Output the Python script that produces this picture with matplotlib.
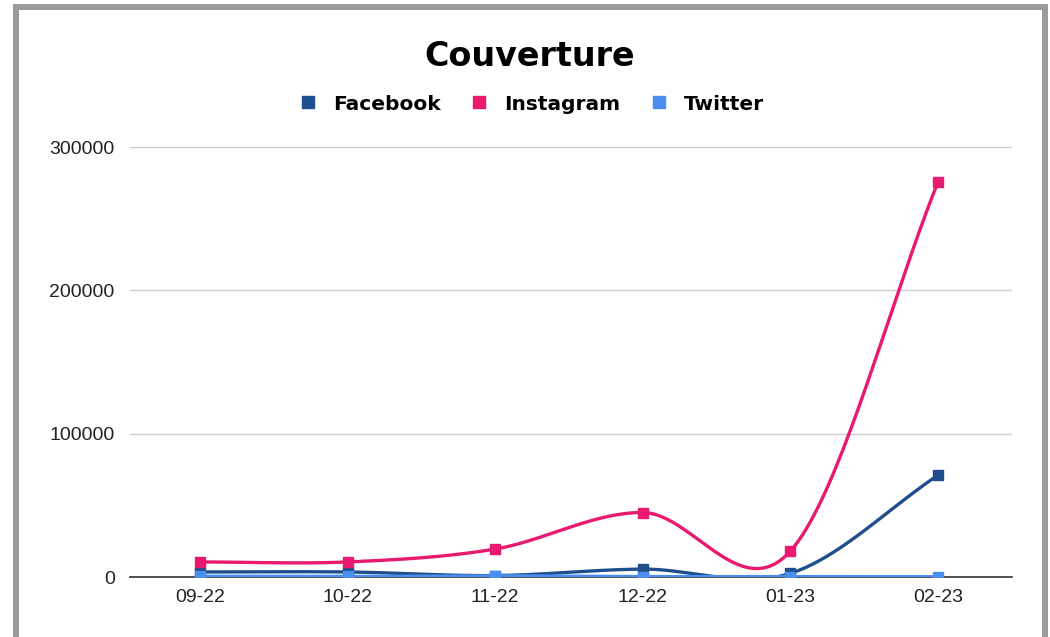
import numpy as np
import matplotlib
matplotlib.use("Agg")
import matplotlib.pyplot as plt
from matplotlib.patches import Rectangle
from matplotlib.lines import Line2D

months = ["09-22", "10-22", "11-22", "12-22", "01-23", "02-23"]
facebook = [3500, 3500, 1000, 5500, 2500, 71000]
instagram = [10500, 10500, 19500, 45000, 18000, 275500]
twitter = [500, 400, 800, 300, 300, 200]
yticks = [0, 100000, 200000, 300000]

colors = {"Facebook": "#1f4e8c", "Instagram": "#e8196f", "Twitter": "#4a8ff0"}

plt.rcParams['font.family'] = ['Liberation Sans', 'DejaVu Sans']

W, H = 1050, 637
fig = plt.figure(figsize=(W / 100, H / 100), dpi=100)
fig.patch.set_facecolor("white")

# frame around the chart
fig.patches.append(Rectangle((16 / W, -0.1), (1045 - 16) / W, (H - 6.5) / H + 0.1,
                             transform=fig.transFigure, fill=False,
                             edgecolor="#9b9b9b", linewidth=4.3, zorder=10))

ax = fig.add_axes([130 / W, (H - 577) / H, (1012 - 130) / W, (577 - 147) / H])
ax.set_facecolor("white")


def smooth(xs, ys, n=40):
    xs = np.asarray(xs, float)
    ys = np.asarray(ys, float)
    k = len(xs)
    m = np.zeros(k)
    for i in range(k):
        if i == 0:
            m[i] = ys[1] - ys[0]
        elif i == k - 1:
            m[i] = ys[-1] - ys[-2]
        else:
            m[i] = (ys[i + 1] - ys[i - 1]) / 2
    outx, outy = [], []
    for i in range(k - 1):
        t = np.linspace(0, 1, n)
        h00 = 2 * t**3 - 3 * t**2 + 1
        h10 = t**3 - 2 * t**2 + t
        h01 = -2 * t**3 + 3 * t**2
        h11 = t**3 - t**2
        outx.append(xs[i] + t * (xs[i + 1] - xs[i]))
        outy.append(h00 * ys[i] + h10 * m[i] + h01 * ys[i + 1] + h11 * m[i + 1])
    return np.concatenate(outx), np.concatenate(outy)


x = np.arange(len(months))
for name, vals, z in [("Facebook", facebook, 3), ("Instagram", instagram, 4), ("Twitter", twitter, 5)]:
    sx, sy = smooth(x, vals)
    ax.plot(sx, sy, color=colors[name], lw=2.4, zorder=z, solid_capstyle="round")
    ax.plot(x, vals, ls="none", marker="s", ms=7.5, color=colors[name], zorder=z)

ax.set_xlim(-0.474, 5.502)
ax.set_ylim(0, 300000)
ax.set_yticks(yticks)
ax.set_yticklabels([str(v) for v in yticks])
ax.set_xticks(x)
ax.set_xticklabels(months)
ax.grid(axis="y", color="#cccccc", lw=1)
ax.set_axisbelow(True)
for s in ["top", "right", "left"]:
    ax.spines[s].set_visible(False)
ax.spines["bottom"].set_color("#333333")
ax.spines["bottom"].set_linewidth(1.2)
ax.spines["bottom"].set_zorder(2)
ax.tick_params(axis="both", length=0, labelsize=14, colors="#222222")
ax.tick_params(axis="x", pad=9)
ax.tick_params(axis="y", pad=11)

fig.text(530 / W, 1 - 56 / H, "Couverture", ha="center", va="center",
         fontsize=24, fontweight="heavy", color="black", family="DejaVu Sans")

handles = [Line2D([], [], ls="none", marker="s", ms=9, color=colors[n]) for n in colors]
leg = fig.legend(handles, list(colors.keys()), loc="center", bbox_to_anchor=(531 / W, 1 - 104 / H),
                 ncol=3, frameon=False, prop={"weight": "bold", "size": 14.5, "family": "DejaVu Sans"},
                 handletextpad=0.75, columnspacing=1.4, handlelength=1.0)

fig.savefig("out.png", dpi=100, facecolor="white")
